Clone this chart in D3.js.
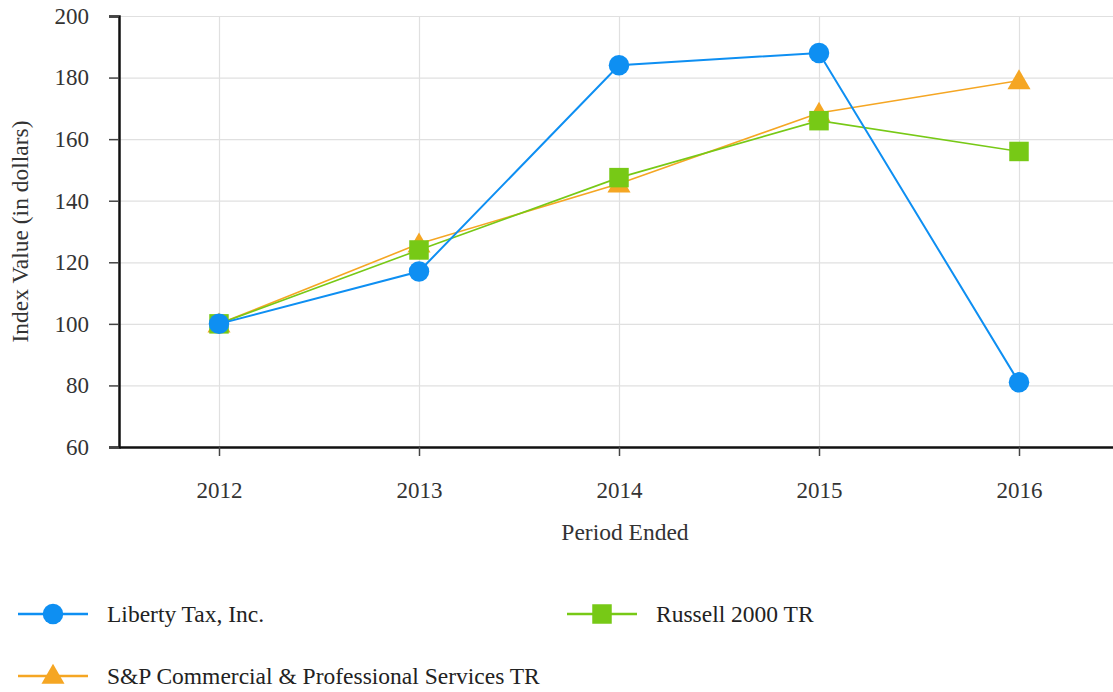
<!DOCTYPE html>
<html>
<head>
<meta charset="utf-8">
<script src="https://cdn.jsdelivr.net/npm/d3@7"></script>
<style>
  body { margin: 0; background: #fff; }
  svg { display: block; }
  svg text { font-family: "Liberation Serif", "Times New Roman", serif; }
  .grid line { stroke: #e0e0e0; stroke-width: 1.2; }
  .grid path { display: none; }
  .axis text { fill: #333; font-size: 23px; font-family: "Liberation Serif", "Times New Roman", serif; }
</style>
</head>
<body>
<svg class="chart"></svg>
<script>
// years on the x axis
const years = ['2012', '2013', '2014', '2015', '2016']

// index values
const libertyValues = [100, 117, 184, 188, 81]
const russellValues = [100, 124, 147.5, 166, 156]
const spValues = [100, 126, 145.5, 168.5, 179]

const yTicks = [60, 80, 100, 120, 140, 160, 180, 200]

const series = [
    { name: 'S&P Commercial & Professional Services TR', values: spValues, color: '#f5a623', symbol: d3.symbolTriangle, size: 230, width: 1.6 },
    { name: 'Russell 2000 TR', values: russellValues, color: '#77c916', symbol: d3.symbolSquare, size: 380, width: 1.6 },
    { name: 'Liberty Tax, Inc.', values: libertyValues, color: '#0e8ff2', symbol: d3.symbolCircle, size: 330, width: 2 }
]

const drawChart = () => {

    const width = 1113
    const height = 692
    const margin = { top: 16, left: 119, bottom: 447, right: 1119 }

    const svg = d3.select('.chart')
        .attr('width', width)
        .attr('height', height)

    const x = d3.scalePoint()
        .domain(years)
        .range([margin.left, margin.right])
        .padding(0.5)

    const y = d3.scaleLinear()
        .domain([60, 200])
        .range([margin.bottom, margin.top])

    // grid lines first, so the marks sit over them
    svg.append('g')
        .attr('class', 'grid')
        .attr('transform', `translate(0,${margin.bottom})`)
        .call(d3.axisBottom(x).tickSize(-(margin.bottom - margin.top)).tickFormat(''))

    svg.append('g')
        .attr('class', 'grid')
        .attr('transform', `translate(${margin.left},0)`)
        .call(d3.axisLeft(y).tickValues(yTicks).tickSize(-(margin.right - margin.left)).tickFormat(''))

    // axes
    const yAxis = svg.append('g')
        .attr('class', 'axis')
        .attr('transform', `translate(${margin.left},0)`)
        .call(d3.axisLeft(y).tickValues(yTicks).tickSize(10).tickPadding(20))
    yAxis.attr('font-family', null).attr('font-size', null)
    yAxis.select('.domain').attr('stroke', '#111').attr('stroke-width', 2.5)
    yAxis.selectAll('.tick line').attr('stroke', '#444').attr('stroke-width', 1.5)

    const xAxis = svg.append('g')
        .attr('class', 'axis')
        .attr('transform', `translate(0,${margin.bottom})`)
        .call(d3.axisBottom(x).tickSize(9).tickPadding(26).tickSizeOuter(0))
    xAxis.attr('font-family', null).attr('font-size', null)
    xAxis.select('.domain').attr('stroke', '#111').attr('stroke-width', 2.5)
    xAxis.selectAll('.tick line').attr('stroke', '#444').attr('stroke-width', 1.5)

    // axis titles
    svg.append('text')
        .attr('transform', `translate(28,${(margin.top + margin.bottom) / 2}) rotate(-90)`)
        .attr('text-anchor', 'middle')
        .attr('font-size', 23.5)
        .attr('fill', '#333')
        .text('Index Value (in dollars)')

    svg.append('text')
        .attr('x', 625)
        .attr('y', 540)
        .attr('text-anchor', 'middle')
        .attr('font-size', 23.5)
        .attr('fill', '#333')
        .text('Period Ended')

    // lines and markers
    const line = d3.line()
        .x((d, i) => x(years[i]))
        .y(d => y(d))

    series.forEach(s => {
        svg.append('path')
            .datum(s.values)
            .attr('d', line)
            .attr('fill', 'none')
            .attr('stroke', s.color)
            .attr('stroke-width', s.width)

        svg.selectAll(null)
            .data(s.values)
            .enter()
            .append('path')
            .attr('d', d3.symbol().type(s.symbol).size(s.size))
            .attr('transform', (d, i) => `translate(${x(years[i])},${y(d) + (s.symbol === d3.symbolTriangle ? 2 : 0)})`)
            .attr('fill', s.color)
    })

    // legend
    const legendItems = [
        { s: series[2], x: 18, y: 614 },
        { s: series[1], x: 567, y: 614 },
        { s: series[0], x: 18, y: 676 }
    ]

    const legend = svg.selectAll('.legend')
        .data(legendItems)
        .enter()
        .append('g')
        .attr('class', 'legend')
        .attr('transform', d => `translate(${d.x},${d.y})`)

    legend.append('line')
        .attr('x1', 0)
        .attr('x2', 70)
        .attr('stroke', d => d.s.color)
        .attr('stroke-width', 2.5)

    legend.append('path')
        .attr('d', d => d3.symbol().type(d.s.symbol).size(d.s.size)())
        .attr('transform', d => `translate(35,${d.s.symbol === d3.symbolTriangle ? 1 : 0})`)
        .attr('fill', d => d.s.color)

    legend.append('text')
        .attr('x', 89)
        .attr('dy', '0.35em')
        .attr('font-size', 23.5)
        .attr('fill', '#222')
        .text(d => d.s.name)
}

drawChart()
</script>
</body>
</html>
